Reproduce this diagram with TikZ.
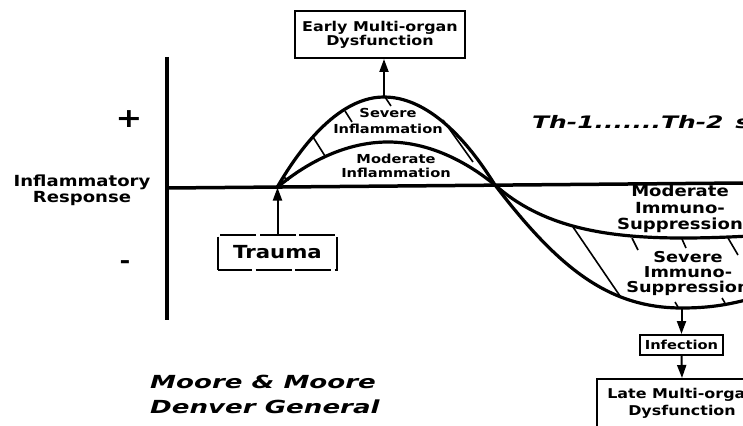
\documentclass[tikz,border=0pt]{standalone}
\usepackage{fontspec}
\usetikzlibrary{arrows.meta}

\newfontfamily\lblfont[FakeStretch=1.18]{DejaVu Sans}
\newfontfamily\slfont[FakeStretch=1.45]{DejaVu Sans}
\newcommand{\lblsize}[2]{\lblfont\bfseries\fontsize{#1}{#2}\selectfont}
\newcommand{\slsize}[2]{\slfont\bfseries\itshape\fontsize{#1}{#2}\selectfont}

\tikzset{
  axis/.style={line width=3.5pt},
  curve/.style={line width=3.2pt},
  hatch/.style={line width=1.6pt},
  conn/.style={line width=2pt,->},
  boxnode/.style={draw,line width=2pt,inner sep=0pt,align=center},
  dashbox/.style={dash pattern=on 36pt off 3.5pt,dash phase=2pt,line width=2.8pt},
  txt/.style={inner sep=0pt,align=center}
}

\begin{document}
\begin{tikzpicture}[x=1pt,y=-1pt,>={Triangle[length=13pt,width=9pt]}]

\useasboundingbox (0,0) rectangle (743,425) ;
\clip (0,0) rectangle (743,425) ;

\draw[axis] (167,57) -- (167,320) ;
\draw[axis] (167,188) -- (743,183) ;

\coordinate (onset) at (277,187.5) ;
\coordinate (cross) at (495,185) ;
\coordinate (sevpeak) at (384,97) ;
\coordinate (modpeak) at (388,142) ;
\coordinate (sevlow) at (682,308) ;
\coordinate (modlow) at (682,238) ;

% severe and moderate response
\draw[curve] (onset) parabola bend (sevpeak) (cross)
  .. controls (560,270) and (610,308) .. (sevlow)
  .. controls (712,308) and (730,304) .. (750,299) ;
\draw[curve] (onset) parabola bend (modpeak) (cross)
  .. controls (540,225) and (600,238) .. (modlow)
  .. controls (710,238) and (730,237) .. (750,236) ;

% hatching
\draw[hatch] (283,177) -- (289,180) ;
\draw[hatch] (313,137) -- (325,156) ;
\draw[hatch] (345,111) -- (352,122) ;
\draw[hatch] (385,97) -- (391,106) ;
\draw[hatch] (443,120) -- (473,162) ;
\draw[hatch] (573,227) -- (620,296) ;
\draw[hatch] (632,238) -- (638,250) ;
\draw[hatch] (682,239) -- (686,248) ;
\draw[hatch] (728,238) -- (738,255) ;
\draw[hatch] (675,302) -- (678,307) ;
\draw[hatch] (722,298) -- (725,303) ;

\node[txt,font=\lblsize{27}{27}] (plus) at (129,119) {+} ;
\node[txt,font=\lblsize{22}{22},anchor=base] (minus) at (125,268) {-} ;
\node[txt,font=\lblsize{15.3}{16}] (resp) at (82,190) {Inflammatory\\Response} ;

\node[boxnode,minimum width=170pt,minimum height=47pt,font=\lblsize{13.5}{14}] (early) at (380,34.5) {Early Multi-organ\\Dysfunction} ;
\node[boxnode,dashbox,minimum width=119pt,minimum height=35pt,font=\lblsize{18}{20}] (trauma) at (277.5,252.5) {Trauma} ;
\node[boxnode,minimum width=83pt,minimum height=20pt,font=\lblsize{12.4}{13}] (infection) at (681.5,345) {Infection} ;
\node[boxnode,minimum width=170pt,minimum height=48pt,font=\lblsize{13.5}{17}] (late) at (682,403) {Late Multi-organ\\Dysfunction} ;

\node[txt,font=\lblsize{12.4}{16}] (sevinf) at (388,121) {Severe\\Inflammation} ;
\node[txt,font=\lblsize{12.4}{14}] (modinf) at (396,166) {Moderate\\Inflammation} ;
\node[txt,font=\lblsize{15.3}{16.5}] (modimm) at (680,209) {Moderate\\Immuno-\\Suppression} ;
\node[txt,font=\lblsize{15}{15}] (sevimm) at (688,273) {Severe\\Immuno-\\Suppression} ;

\node[txt,font=\slsize{17.2}{17},anchor=west] (shift) at (532,122) {Th-1.......Th-2\hspace{12pt}shift} ;
\node[txt,font=\slsize{18}{25},anchor=west,align=left] (credit) at (150,394) {Moore \& Moore\\Denver General} ;

\draw[conn] (sevpeak) -- (sevpeak |- early.south) ;
\draw[conn] (trauma.north) -- (trauma.north |- onset) ;
\draw[conn] (infection.north |- sevlow) -- (infection.north) ;
\draw[conn] (infection.south) -- (late.north) ;

\end{tikzpicture}
\end{document}
